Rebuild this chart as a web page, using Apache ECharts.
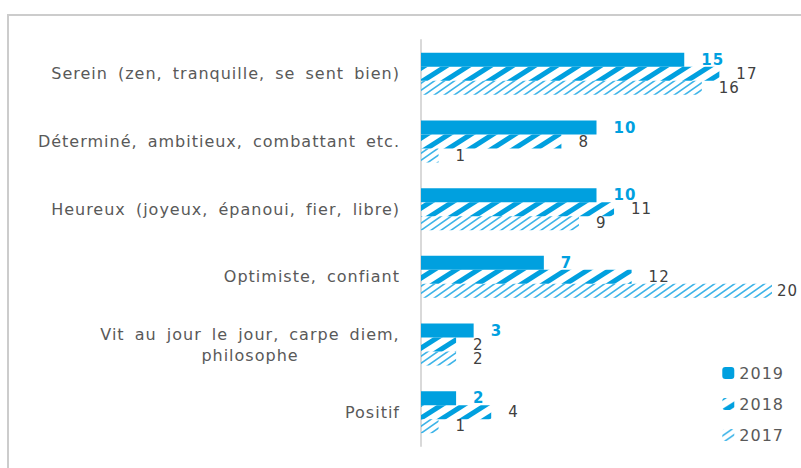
<!DOCTYPE html>
<html>
<head>
<meta charset="utf-8">
<script src="https://cdn.jsdelivr.net/npm/echarts@6/dist/echarts.min.js"></script>
<style>
  html, body { margin: 0; padding: 0; background: #fff; }
  #main { width: 801px; height: 468px; }
  #main text { letter-spacing: 1px; word-spacing: 4px; }
</style>
</head>
<body>
<div id="main"></div>
<script>
// categories, top to bottom
var categories = [
  'Serein (zen, tranquille, se sent bien)',
  'Déterminé, ambitieux, combattant etc.',
  'Heureux (joyeux, épanoui, fier, libre)',
  'Optimiste, confiant',
  'Vit au jour le jour, carpe diem,\nphilosophe',
  'Positif'
];
var years = ['2019', '2018', '2017'];
var values2019 = [15, 10, 10, 7, 3, 2];
var values2018 = [17, 8, 11, 12, 2, 4];
var values2017 = [16, 1, 9, 20, 2, 1];

var blue = '#00a0df';

// hachures façon Excel
function stripes(w, h, lw, col) {
  var c = document.createElement('canvas');
  c.width = w; c.height = h;
  var ctx = c.getContext('2d');
  ctx.strokeStyle = col;
  ctx.lineWidth = lw;
  for (var k = -2; k <= 2; k++) {
    ctx.beginPath();
    ctx.moveTo(k * w - w, 2 * h);
    ctx.lineTo(k * w + 2 * w, -h);
    ctx.stroke();
  }
  return { image: c, repeat: 'repeat' };
}
var pat2018 = stripes(22, 14, 5, blue);
var pat2017 = stripes(10, 7, 1.6, '#3db4e8');

function lbl(col, bold) {
  return {
    show: true,
    position: 'right',
    distance: 17,
    color: col,
    fontSize: 15,
    lineHeight: 13,
    fontWeight: bold ? 'bold' : 'normal',
    fontFamily: 'DejaVu Sans'
  };
}

// le libellé du 20 est collé à la barre
var data2017 = values2017.map(function (v, i) {
  return i === 3 ? { value: v, label: { distance: 5 } } : v;
});

var chart = echarts.init(document.getElementById('main'), null, { renderer: 'svg' });
chart.setOption({
  animation: false,
  graphic: [{
    type: 'rect',
    shape: { x: 8, y: 15, width: 900, height: 600 },
    style: { fill: 'none', stroke: '#cccccc', lineWidth: 2 },
    silent: true
  }],
  legend: {
    orient: 'vertical',
    right: 16,
    bottom: 20,
    itemWidth: 12,
    itemHeight: 12,
    itemGap: 15,
    data: years,
    textStyle: { color: '#595959', fontSize: 16, fontFamily: 'DejaVu Sans' }
  },
  grid: { left: 421, right: 29, top: 40, bottom: 22 },
  xAxis: {
    type: 'value',
    min: 0,
    max: 20,
    show: false
  },
  yAxis: {
    type: 'category',
    inverse: true,
    data: categories,
    axisLine: { lineStyle: { color: '#d9d9d9', width: 2 } },
    axisTick: { show: false },
    axisLabel: {
      margin: 21,
      color: '#595959',
      fontSize: 16,
      fontFamily: 'DejaVu Sans',
      formatter: function (v) {
        if (v.indexOf('\n') >= 0) {
          var p = v.split('\n');
          return '{c|' + p[0] + '}\n{c|' + p[1] + '}';
        }
        return v;
      },
      rich: {
        c: { width: 300, align: 'center', fontSize: 16, color: '#595959', fontFamily: 'DejaVu Sans', lineHeight: 21 }
      }
    }
  },
  series: [
    { name: '2019', type: 'bar', data: values2019, barWidth: 14, barGap: '0%',
      itemStyle: { color: blue }, label: lbl(blue, true) },
    { name: '2018', type: 'bar', data: values2018, barWidth: 14, barGap: '0%',
      itemStyle: { color: pat2018 }, label: lbl('#404040', false) },
    { name: '2017', type: 'bar', data: data2017, barWidth: 14, barGap: '0%',
      itemStyle: { color: pat2017 }, label: lbl('#404040', false) }
  ]
});
</script>
</body>
</html>
